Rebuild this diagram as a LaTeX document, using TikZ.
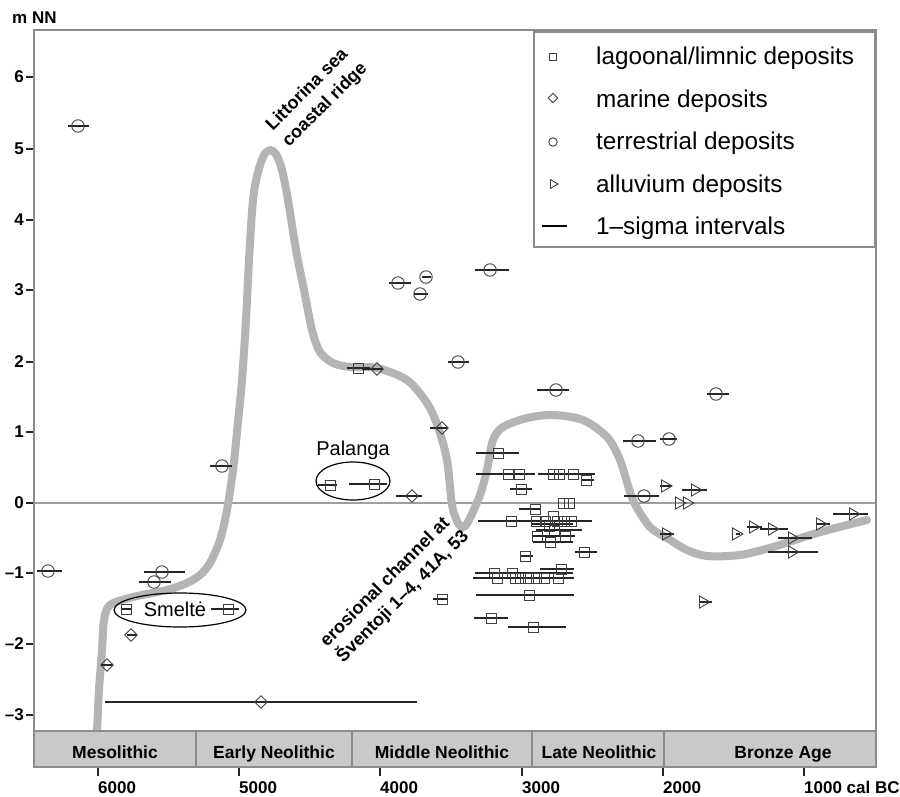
\documentclass[tikz,border=0pt]{standalone}
\usepackage{fontspec}
\setmainfont{Liberation Sans}
\usetikzlibrary{shapes.geometric}
\definecolor{framec}{HTML}{8C8C8C}
\definecolor{curvec}{HTML}{B4B4B4}
\definecolor{barc}{HTML}{C9C9C9}
\definecolor{zeroc}{HTML}{9E9E9E}
\begin{document}
\begin{tikzpicture}[x=1pt,y=-1pt,
  ebar/.style={line width=1.5pt, black!85},
  mk/.style={draw=black!75, line width=0.9pt, inner sep=0pt},
  sqm/.style={mk, rectangle, minimum size=10pt},
  cim/.style={mk, circle, minimum size=12.5pt},
  dim/.style={mk, diamond, minimum size=13pt},
  trm/.style={mk, regular polygon, regular polygon sides=3, minimum size=14pt, rotate=-90},
  axlab/.style={font=\fontsize{17}{20}\selectfont\bfseries, inner sep=0pt},
  perlab/.style={font=\fontsize{17.5}{20}\selectfont\bfseries, inner sep=0pt, anchor=base},
  leglab/.style={font=\fontsize{24.3}{27}\selectfont, inner sep=0pt, anchor=base west},
  note/.style={font=\fontsize{18}{23}\selectfont\bfseries, inner sep=0pt, rotate=45, align=left},
  site/.style={font=\fontsize{20}{24}\selectfont, inner sep=0pt},
  ring/.style={draw=black, line width=1.2pt, ellipse, inner sep=0pt}
]
\useasboundingbox (0,0) rectangle (900,796);
\fill[white] (0,0) rectangle (900,796);

% zero line
\draw[zeroc, line width=1.5pt] (34,503) -- (876,503);

% sea level curve
\draw[curvec, line width=8pt, line cap=round, line join=round] plot[smooth, tension=0.5] coordinates {
(97,731) (99,690) (102,650) (104,620) (110,605) (133,597) (167,590) (187,583) (200,575) (210,563) (220,540) (227,510) (233,470) (237,432) (242,380) (246,320) (249,260) (253,200) (258,172) (264,155) (270,150) (276,154) (282,170) (288,200) (296,250) (305,295) (312,330) (320,352) (333,363) (350,367) (377,368) (407,380) (427,403) (438,427) (447,460) (452,505) (458,523) (464,527) (470,518) (480,495) (487,470) (493,440) (503,427) (527,418) (553,415) (583,420) (607,437) (620,460) (633,500) (650,527) (667,538) (687,550) (707,556) (740,555) (773,547) (817,533) (867,520)};

% extra sigma lines without own marker
\draw[ebar] (532,524) -- (573,524);

% squares: lagoonal/limnic
\foreach \x/\y/\a/\b [count=\i] in {
 126/609/122/131, 228/609/211/239,
 330/485/318/337, 374/484/349/387,
 358/368/347/370, 442/599/433/448,
 498/453/476/519,
 508/474/476/535, 519/474/519/519,
 553/474/538/595, 559/474/559/559, 573/474/573/573, 586/480/582/594,
 521/489/510/532, 563/503/563/563, 569/503/569/569, 535/509/519/540,
 511/521/478/592, 536/521/536/536, 545/521/545/545, 557/521/557/557, 564/521/564/564, 571/521/571/571,
 553/516/553/553, 549/526/549/549,
 554/530/536/582, 537/536/533/541, 565/536/540/575, 550/542/533/573,
 525/556/520/533, 584/552/575/597,
 494/573/475/573, 512/573/512/512,
 497/578/473/574, 515/578/515/515, 520/578/520/520, 528/578/528/528, 536/578/536/536, 544/578/544/544, 558/578/558/558,
 561/569/540/574,
 529/595/476/574, 491/618/474/508, 533/627/508/566}
{\draw[ebar] (\a,\y) -- (\b,\y); \node[sqm] (sq\i) at (\x,\y) {};}

% diamonds: marine
\foreach \x/\y/\a/\b [count=\i] in {
 107/665/101/113, 131/635/127/137, 261/702/105/417, 377/369/362/383, 442/428/430/447, 412/496/396/422}
{\draw[ebar] (\a,\y) -- (\b,\y); \node[dim] (di\i) at (\x,\y) {};}

% circles: terrestrial
\foreach \x/\y/\a/\b [count=\i] in {
 78/126/68/89, 48/571/37/62, 162/572/144/185, 154/582/139/171, 222/466/210/232,
 398/283/389/411, 426/277/422/431, 420/294/414/428, 490/270/475/509, 458/362/448/469,
 556/390/537/569, 716/394/707/729, 638/441/623/656, 669/439/660/677, 644/496/624/659}
{\draw[ebar] (\a,\y) -- (\b,\y); \node[cim] (ci\i) at (\x,\y) {};}

% triangles: alluvium
\foreach \x/\y/\a/\b [count=\i] in {
 665/486/660/672, 695/490/682/707, 679/503/679/679, 687/503/687/687, 666/534/660/674,
 736/534/736/740, 753/527/747/762, 772/529/760/788, 792/538/778/812, 792/552/768/818,
 820/524/817/830, 853/514/833/868, 703/602/699/712}
{\draw[ebar] (\a,\y) -- (\b,\y); \node[trm] (tr\i) at (\x,\y) {};}

% site rings
\node[ring, minimum width=132pt, minimum height=34pt] (smring) at (180,610) {};
\node[site] (smtext) at (175,609) {Smeltė};
\node[ring, minimum width=74pt, minimum height=38pt] (paring) at (353,481) {};
\node[site] (patext) at (353,450) {Palanga};

% annotations
\node[note] (litt) at (317,97) {Littorina sea\\coastal ridge};
\node[note] (eros) at (395,589) {erosional channel at\\Šventoji 1–4, 41A, 53};

% period bar
\draw[framec, fill=barc, line width=1.2pt] (34,731) rectangle (876,767);
\foreach \xx in {196,352,532,664} \draw[framec, line width=1.2pt] (\xx,731) -- (\xx,767);
\node[perlab] (p1) at (115,758) {Mesolithic};
\node[perlab] (p2) at (274,758) {Early Neolithic};
\node[perlab] (p3) at (442,758) {Middle Neolithic};
\node[perlab] (p4) at (599,758) {Late Neolithic};
\node[perlab] (p5) at (783,758) {Bronze Age};

% frame
\draw[framec, line width=1.5pt] (34,30) rectangle (876,767);

% y ticks
\foreach \yy/\lab [count=\i] in {77/6, 149/5, 220/4, 290/3, 362/2, 432/1, 503/0, 573/–1, 644/–2, 715/–3}
{\draw[black!85, line width=2pt] (26,\yy) -- (33,\yy);
 \node[axlab, anchor=east] (yl\i) at (24,\yy) {\lab};}
\node[axlab, anchor=west] (yunit) at (12,18) {m NN};

% x ticks
\foreach \xx/\lab [count=\i] in {98/6000, 239/5000, 380/4000, 522/3000, 663/2000}
{\draw[black!85, line width=2pt] (\xx,768) -- (\xx,776);
 \node[axlab, anchor=base west] (xl\i) at (\xx,793) {\lab};}
\draw[black!85, line width=2pt] (804,768) -- (804,776);
\node[axlab, anchor=base west] (xl6) at (804,793) {1000 cal BC};

% legend
\draw[framec, fill=white, line width=1.2pt] (534,32) rectangle (875,247);
\node[mk, rectangle, minimum size=7.5pt] (lg1) at (553,57) {};
\node[mk, diamond, minimum size=10pt] (lg2) at (553,98) {};
\node[mk, circle, minimum size=8.5pt] (lg3) at (553,142) {};
\node[mk, regular polygon, regular polygon sides=3, minimum size=10pt, rotate=-90] (lg4) at (553,184) {};
\draw[black, line width=1.3pt] (542,226) -- (567,226);
\node[leglab] (lt1) at (596,64) {lagoonal/limnic deposits};
\node[leglab] (lt2) at (596,107) {marine deposits};
\node[leglab] (lt3) at (596,149) {terrestrial deposits};
\node[leglab] (lt4) at (596,192) {alluvium deposits};
\node[leglab] (lt5) at (596,234) {1–sigma intervals};
\end{tikzpicture}
\end{document}
